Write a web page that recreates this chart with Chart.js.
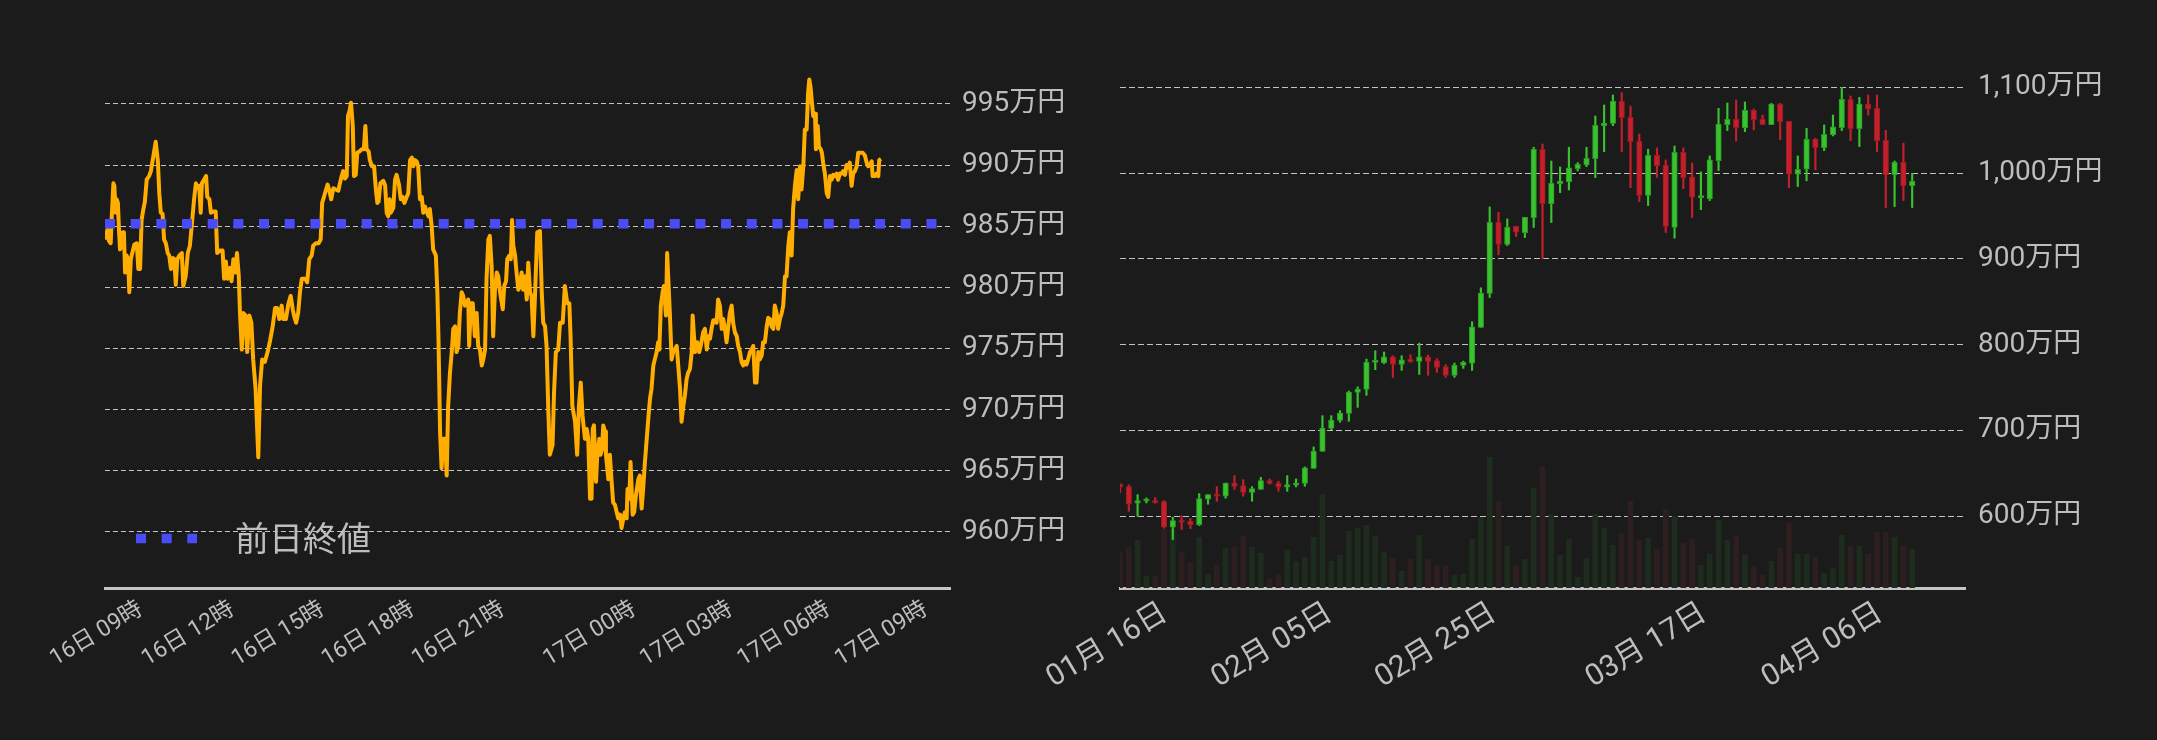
<!DOCTYPE html>
<html lang="ja">
<head>
<meta charset="utf-8">
<title>ビットコイン価格</title>
<script src="https://cdn.jsdelivr.net/npm/chart.js@4.4.1/dist/chart.umd.min.js"></script>
<style>
  html, body { margin: 0; padding: 0; background: #1b1b1b; }
  #wrap { position: relative; width: 2157px; height: 740px; }
  canvas { position: absolute; top: 0; display: block; }
  #dayChart { left: 0; }
  #rangeChart { left: 980px; }
</style>
</head>
<body>
<div id="wrap">
  <canvas id="dayChart" width="1078" height="740"></canvas>
  <canvas id="rangeChart" width="1177" height="740"></canvas>
</div>
<script>
Chart.defaults.font.family = "Roboto, 'Noto Sans CJK JP', sans-serif";
Chart.defaults.animation = false;

var labelColor = '#bdbdbd';
var gridColor = 'rgba(225,225,225,0.85)';
var axisColor = '#c4c4c4';

// ---- left: intraday price (x = sample slot, y = 万円) ----
var slotRange = [0, 281.7];
var timeTicks = [12, 42.6, 72.6, 102.6, 132.7, 176.4, 208.7, 241.2, 273.7];
var timeLabels = ['16日 09時', '16日 12時', '16日 15時', '16日 18時', '16日 21時', '17日 00時', '17日 03時', '17日 06時', '17日 09時'];
var priceTicks = [960, 965, 970, 975, 980, 985, 990, 995];
var prevClose = 985.2;

var dayTrace = [
  [0,983.9],[0.8,984.7],[1.3,983.8],[1.9,983.6],[2.2,985.5],[2.8,988.5],[3.1,988.3],[3.6,986.1],[3.9,987.2],[4.3,986.9],
  [4.7,984.5],[5.0,983.1],[5.6,983.4],[5.9,984.5],[6.3,984.5],[6.7,981.2],[7.2,982.6],[7.7,982.3],[8.1,979.6],[8.6,982.3],
  [9.1,982.8],[9.8,983.5],[10.6,983.6],[11.1,981.5],[11.7,981.5],[12.2,985.5],[12.8,986.4],[13.3,987.0],[13.9,988.8],[14.7,989.1],
  [15.3,989.5],[16.1,990.7],[16.9,991.9],[17.6,990.4],[18.1,987.7],[18.6,986.1],[19.2,986.0],[19.7,983.9],[20.3,983.6],[20.9,982.8],
  [21.4,982.6],[22.0,981.5],[22.6,982.4],[23.1,982.3],[23.6,980.2],[24.1,982.3],[24.8,982.6],[25.6,982.8],[26.1,980.1],[26.9,980.9],
  [27.6,982.8],[28.3,983.4],[28.9,985.0],[29.7,987.2],[30.3,988.5],[30.9,988.1],[31.4,988.3],[31.9,986.1],[32.3,988.5],[33.0,988.8],
  [33.7,989.1],[34.1,987.4],[34.8,987.2],[35.3,986.1],[36.1,986.2],[36.9,986.2],[37.4,982.8],[38.3,983.0],[39.2,983.0],[39.7,980.7],
  [40.3,982.1],[40.9,980.7],[41.7,981.6],[42.2,980.5],[42.8,982.3],[43.4,981.2],[44.0,982.8],[44.6,980.9],[45.0,977.9],[45.6,974.9],
  [46.1,977.9],[46.8,977.7],[47.4,974.7],[48.1,977.7],[48.8,977.1],[49.4,974.1],[50.2,971.7],[51.1,966.1],[51.7,972.0],[52.4,974.1],
  [53.3,973.9],[54.2,974.7],[55.0,975.6],[55.9,976.8],[56.7,978.3],[57.4,978.3],[58.1,977.4],[58.9,978.5],[59.4,977.4],[60.3,977.4],
  [61.1,978.6],[61.9,979.3],[62.6,978.2],[63.0,977.7],[63.7,977.1],[64.4,977.9],[65.0,979.6],[65.6,980.7],[66.7,980.7],[67.4,980.4],
  [68.1,982.3],[68.9,982.6],[69.4,983.4],[70.3,983.6],[71.2,983.6],[71.9,983.9],[72.4,986.9],[73.0,987.4],[73.7,988.0],[74.2,988.4],
  [74.8,987.9],[75.4,987.2],[76.1,988.1],[76.9,988.0],[77.8,987.9],[78.3,988.5],[78.9,989.1],[79.4,989.5],[80.0,988.9],[80.6,989.1],
  [81.0,994.0],[81.6,994.5],[82.0,995.1],[82.6,993.2],[83.0,989.1],[83.6,989.2],[84.1,991.0],[84.8,991.1],[85.6,991.3],[86.3,991.3],
  [86.8,993.2],[87.2,991.3],[87.9,991.1],[88.3,990.4],[89.0,989.9],[89.7,989.9],[90.3,988.0],[90.8,986.9],[91.2,987.0],[91.8,988.5],
  [92.8,988.7],[93.4,988.3],[93.9,986.1],[94.4,985.8],[94.9,987.2],[95.3,986.1],[96.1,986.5],[96.7,988.8],[97.2,989.2],[98.0,988.4],
  [98.6,987.2],[99.2,987.4],[99.8,986.9],[100.6,987.4],[101.1,987.7],[101.7,990.4],[102.3,990.6],[102.8,989.9],[103.3,990.4],[103.9,990.3],
  [104.4,989.9],[105.0,987.2],[105.6,987.4],[106.1,986.1],[106.7,986.6],[107.2,986.2],[107.9,985.8],[108.3,986.4],[108.9,985.0],[109.4,983.1],
  [110.3,982.6],[110.8,979.6],[111.2,975.5],[111.7,968.2],[112.2,965.2],[112.8,967.6],[113.4,967.6],[113.9,964.6],[114.4,970.3],[115.0,973.0],
  [115.6,974.7],[116.1,976.6],[116.7,976.8],[117.2,974.7],[117.8,975.2],[118.3,977.9],[118.9,979.6],[119.4,979.3],[120.0,978.5],[120.6,978.7],
  [121.1,979.0],[121.4,975.2],[122.0,978.7],[122.6,978.7],[123.3,976.0],[123.9,977.9],[124.4,975.2],[125.0,974.9],[125.6,973.6],[126.1,974.1],
  [126.7,974.9],[127.2,980.7],[127.8,983.9],[128.3,984.2],[128.9,981.7],[129.4,976.0],[130.0,979.8],[130.6,981.2],[131.1,980.9],[131.7,979.6],
  [132.6,978.2],[133.1,980.1],[133.7,980.5],[134.1,982.3],[134.8,982.6],[135.3,982.3],[135.7,985.5],[136.1,983.4],[136.7,982.6],[137.2,981.2],
  [137.8,979.8],[138.3,980.1],[138.9,981.2],[139.4,979.8],[140.0,980.9],[140.6,979.0],[141.1,982.0],[141.7,979.6],[142.2,979.3],[142.8,976.0],
  [143.3,979.0],[144.1,984.5],[145.0,984.6],[145.6,979.6],[146.1,977.1],[146.7,976.8],[147.2,975.2],[147.8,969.8],[148.3,966.3],[149.2,967.1],
  [149.7,971.4],[150.3,974.7],[151.1,974.9],[151.7,977.1],[152.6,977.1],[153.3,980.1],[154.1,978.7],[154.8,978.7],[155.2,976.0],[155.8,970.3],
  [156.7,969.0],[157.4,966.3],[158.0,970.3],[158.6,972.2],[159.2,969.5],[160.0,967.6],[160.6,968.4],[161.1,967.6],[161.7,962.7],[162.2,962.7],
  [162.6,968.4],[163.0,968.7],[163.7,964.1],[164.1,966.3],[164.8,967.6],[165.2,966.3],[165.7,966.8],[166.1,968.7],[166.7,968.2],[167.0,966.3],
  [167.8,964.3],[168.3,966.3],[168.9,964.1],[169.4,962.4],[170.0,962.2],[170.6,961.6],[171.1,961.1],[171.7,961.4],[172.2,960.3],[172.8,961.1],
  [173.3,961.6],[173.9,961.1],[174.2,963.5],[174.8,962.7],[175.2,965.7],[175.9,961.4],[176.4,961.6],[177.0,963.0],[177.8,964.3],[178.3,964.6],
  [178.9,961.9],[179.4,963.5],[180.0,965.7],[180.6,967.6],[181.1,969.2],[181.7,970.9],[182.2,971.7],[182.8,973.6],[183.3,974.1],[183.9,974.7],
  [184.4,975.5],[184.8,974.9],[185.3,978.5],[185.9,979.6],[186.3,980.1],[187.0,977.7],[187.4,982.8],[187.9,980.1],[188.3,977.9],[188.9,974.1],
  [189.4,974.7],[190.6,975.2],[191.7,971.7],[192.2,969.0],[192.8,970.3],[193.3,971.1],[193.9,972.5],[194.4,973.0],[195.0,973.3],[195.6,974.7],
  [195.9,977.7],[196.7,974.7],[197.4,975.5],[198.1,974.7],[198.6,975.2],[199.4,976.3],[200.0,976.6],[200.6,974.9],[201.1,976.0],[201.7,975.8],
  [202.2,976.6],[202.8,977.3],[203.3,977.3],[203.9,977.1],[204.4,979.0],[205.0,978.5],[205.6,976.6],[206.1,977.4],[206.7,976.6],[207.2,975.5],
  [207.8,976.8],[208.3,977.9],[208.9,978.5],[209.4,977.1],[210.0,976.3],[210.6,976.0],[211.1,975.2],[211.7,974.7],[212.2,973.9],[212.8,973.6],
  [213.3,973.9],[213.9,973.7],[214.4,974.1],[215.0,974.7],[215.6,974.9],[216.1,975.2],[216.7,972.2],[217.2,972.2],[217.8,974.7],[218.3,974.1],
  [218.9,974.4],[219.4,975.5],[220.0,975.5],[220.6,976.8],[221.1,977.5],[221.7,977.4],[222.2,976.8],[222.8,976.6],[223.3,978.5],[223.9,977.9],
  [224.4,976.6],[225.0,977.4],[225.6,977.9],[226.1,978.5],[226.7,980.9],[227.2,980.9],[227.8,983.4],[228.3,984.5],[228.9,982.6],[229.4,986.4],
  [230.0,988.3],[230.6,989.6],[231.1,987.2],[231.7,989.9],[232.2,988.0],[232.8,989.9],[233.3,992.9],[233.9,992.9],[234.4,995.9],[234.8,997.0],
  [235.2,996.4],[235.6,995.3],[236.1,994.0],[236.7,994.2],[237.0,991.3],[237.6,993.2],[238.0,991.5],[238.6,991.3],[239.0,991.0],[239.4,990.2],
  [240.0,989.3],[240.6,987.7],[241.1,987.4],[241.7,989.1],[242.2,988.8],[242.8,989.2],[243.3,989.1],[243.9,989.3],[244.4,988.8],[245.0,989.3],
  [245.6,989.3],[246.1,989.5],[246.7,989.2],[247.2,990.0],[247.8,989.8],[248.3,990.2],[248.9,988.3],[249.4,989.3],[250.0,989.5],[250.6,989.9],
  [251.1,991.0],[251.7,991.0],[252.6,991.0],[253.3,990.8],[253.9,990.2],[254.4,989.9],[255.0,990.0],[255.6,990.3],[255.9,989.1],[256.7,989.1],
  [257.2,989.3],[257.8,989.1],[258.1,990.4],[258.7,990.5]
];

// ---- right: daily candles (万円) and volume ----
var candleRange = [0, 96];
var dayTicks = [5.15, 23.9, 42.5, 66.4, 86.4];
var dayLabels = ['01月 16日', '02月 05日', '02月 25日', '03月 17日', '04月 06日'];
var yenTicks = [600, 700, 800, 900, 1000, 1100];

var candleOpen = [637.5,634.3,614.9,617.6,618.1,616.9,587.0,594.8,594.0,590.1,
  619.6,625.0,623.1,638.6,635.5,627.7,631.2,641.3,638.6,633.6,
  635.9,638.2,655.7,675.5,702.3,711.6,719.8,744.3,747.7,779.2,
  778.8,785.8,776.9,782.7,780.4,785.8,781.2,774.2,764.1,775.7,
  778.4,820.0,859.6,942.7,916.7,938.0,930.6,948.1,1027.7,964.4,
  987.7,990.1,1005.2,1009.5,1016.9,1055.3,1058.0,1083.7,1065.0,1037.4,
  973.8,1020.8,1009.1,936.5,1024.3,995.5,971.4,970.2,1014.5,1056.5,
  1062.7,1053.0,1073.2,1062.7,1056.5,1080.6,1060.4,998.6,1004.5,1039.4,
  1029.7,1044.8,1053.0,1086.0,1051.8,1080.6,1075.5,1038.2,997.8,1012.6,985.4];
var candleHigh = [637.5,636.3,625.0,621.2,621.5,618.1,598.6,600.5,597.1,626.2,
  625.0,634.3,638.6,647.2,642.5,634.3,645.2,643.3,640.6,647.2,
  643.3,657.3,680.6,717.1,717.1,722.9,745.8,750.8,783.1,792.8,
  791.3,787.0,787.0,788.1,801.7,787.8,783.5,776.5,778.4,780.7,
  826.6,866.2,960.5,954.3,946.6,938.0,948.5,1030.1,1033.9,1014.1,
  1007.1,1030.1,1012.2,1030.1,1066.6,1079.4,1091.1,1093.8,1078.2,1045.6,
  1027.8,1029.3,1015.3,1031.6,1029.3,1011.8,1001.3,1020.0,1075.5,1081.7,
  1085.2,1082.9,1074.7,1067.7,1081.3,1081.3,1060.4,1020.0,1052.2,1040.6,
  1056.1,1067.7,1100.0,1089.9,1088.3,1091.1,1091.1,1049.9,1014.1,1034.7,999.8];
var candleLow = [627.7,605.6,599.8,615.3,614.9,585.8,572.6,584.3,585.4,588.9,
  613.8,617.3,620.8,631.2,623.1,617.3,631.2,637.1,628.9,628.9,
  634.0,634.7,655.7,675.5,700.8,709.3,710.5,726.8,740.8,770.7,
  777.6,761.7,769.9,779.2,765.2,764.1,767.6,761.7,761.7,772.2,
  769.9,820.0,854.9,904.6,915.5,926.0,924.8,936.5,900.0,942.3,
  977.2,980.3,1002.5,1007.5,994.7,1025.0,1055.3,1025.0,983.1,966.8,
  962.1,995.1,930.7,924.1,981.9,948.1,957.4,967.9,1002.9,1049.5,
  1037.4,1048.3,1050.3,1056.5,1056.5,1039.0,983.1,984.3,990.9,1003.7,
  1026.2,1043.3,1049.5,1037.8,1030.9,1067.7,1025.0,959.8,960.9,967.9,959.8];
var candleClose = [633.6,613.8,618.1,618.4,615.7,587.0,594.8,592.8,590.1,620.4,
  625.0,623.1,638.6,634.7,627.7,632.0,641.3,638.2,633.6,636.7,
  638.6,656.1,675.9,702.7,712.0,720.2,744.6,748.1,779.6,780.0,
  785.8,776.9,782.3,780.0,785.8,780.4,773.4,764.1,776.1,779.2,
  820.7,860.0,942.7,916.7,936.8,931.0,948.5,1027.7,964.4,988.1,
  990.8,1006.0,1010.6,1017.2,1055.7,1058.4,1083.7,1064.6,1036.7,973.8,
  1020.8,1008.7,937.7,1024.3,994.7,971.8,972.2,1015.3,1057.2,1062.7,
  1053.0,1073.2,1062.3,1056.5,1080.6,1060.0,998.6,1004.5,1039.4,1029.7,
  1045.2,1053.8,1086.0,1051.8,1080.6,1075.1,1037.8,997.8,1012.6,985.4,990.4];
var volume = [350,407,477,117,117,583,583,357,247,507,
  137,227,397,407,517,407,347,97,137,377,
  267,307,507,937,267,327,567,597,627,517,
  357,297,167,287,527,287,217,217,127,137,
  487,707,1307,867,417,227,287,997,1207,737,
  327,487,107,297,737,597,427,547,867,477,
  497,387,787,717,447,487,227,337,677,477,
  517,337,217,127,267,397,647,337,337,307,
  147,197,527,417,417,337,557,557,507,417,387];

var candleUp = candleClose.map(function (c, i) { return c >= candleOpen[i]; });
var bodyColor = candleUp.map(function (u) { return u ? '#38c22e' : '#c4202c'; });
var edgeColor = candleUp.map(function (u) { return u ? '#2b9a24' : '#9c1923'; });
var volColor = candleUp.map(function (u) { return u ? '#1d2c1d' : '#2d1e1f'; });

// legend for the dotted previous-close line, drawn in the lower left of the plot
var insideLegend = {
  id: 'insideLegend',
  afterDatasetsDraw: function (chart) {
    var ds = chart.data.datasets[1];
    var ctx = chart.ctx;
    var area = chart.chartArea;
    var y = area.bottom - 49.5;
    ctx.save();
    ctx.strokeStyle = ds.borderColor;
    ctx.lineWidth = ds.borderWidth;
    ctx.setLineDash(ds.borderDash);
    ctx.beginPath();
    ctx.moveTo(area.left + 31, y);
    ctx.lineTo(area.left + 92, y);
    ctx.stroke();
    ctx.setLineDash([]);
    ctx.fillStyle = labelColor;
    ctx.font = "34px 'Noto Sans CJK JP', sans-serif";
    ctx.textBaseline = 'middle';
    ctx.fillText(ds.label, area.left + 130, y);
    ctx.restore();
  }
};

// keep the plot edges fixed: rotated labels must not push the chart area in
function fixXAxis(s) {
  s.height = 152;
  s.paddingLeft = 0;
  s.paddingRight = 0;
}

new Chart(document.getElementById('dayChart'), {
  type: 'line',
  data: {
    datasets: [{
      label: '価格',
      data: dayTrace.map(function (p) { return { x: p[0], y: p[1] }; }),
      borderColor: '#ffad00',
      borderWidth: 4,
      borderJoinStyle: 'round',
      pointRadius: 0,
      tension: 0,
      order: 1
    }, {
      label: '前日終値',
      data: [{ x: slotRange[0], y: prevClose }, { x: slotRange[1], y: prevClose }],
      borderColor: '#4a4cf7',
      borderWidth: 9.5,
      borderDash: [10, 15.67],
      pointRadius: 0,
      order: 0
    }]
  },
  options: {
    responsive: false,
    events: [],
    layout: { padding: { left: 105, top: 55, right: 0, bottom: 0 }, autoPadding: false },
    plugins: { legend: { display: false }, tooltip: { enabled: false } },
    scales: {
      x: {
        type: 'linear',
        min: slotRange[0],
        max: slotRange[1],
        grid: { display: false, drawTicks: false },
        border: { display: true, color: axisColor, width: 3 },
        afterBuildTicks: function (s) { s.ticks = timeTicks.map(function (v) { return { value: v }; }); },
        afterFit: fixXAxis,
        ticks: {
          autoSkip: false, minRotation: 31, maxRotation: 31, padding: 8,
          color: labelColor, font: { size: 23 },
          callback: function (v, i) { return timeLabels[i]; }
        }
      },
      y: {
        position: 'right',
        min: 955.4,
        max: 999,
        grid: { color: gridColor, lineWidth: 1, drawTicks: false },
        border: { display: false, dash: [5, 3] },
        afterBuildTicks: function (s) { s.ticks = priceTicks.map(function (v) { return { value: v }; }); },
        afterFit: function (s) { s.width = 128; },
        ticks: { padding: 12, color: labelColor, font: { size: 28 }, callback: function (v) { return v + '万円'; } }
      }
    }
  },
  plugins: [insideLegend]
});

new Chart(document.getElementById('rangeChart'), {
  type: 'bar',
  data: {
    datasets: [{
      label: '出来高',
      data: volume.map(function (v, i) { return { x: i, y: v }; }),
      yAxisID: 'yVol',
      backgroundColor: volColor,
      barThickness: 5,
      grouped: false,
      clip: 0,
      order: 3
    }, {
      label: '高値・安値',
      data: candleHigh.map(function (h, i) { return { x: i, y: [candleLow[i], h] }; }),
      backgroundColor: bodyColor,
      barThickness: 1.5,
      grouped: false,
      clip: 0,
      order: 2
    }, {
      label: '始値・終値',
      data: candleOpen.map(function (o, i) { return { x: i, y: [o, candleClose[i]] }; }),
      backgroundColor: bodyColor,
      borderColor: edgeColor,
      borderWidth: 1,
      borderSkipped: false,
      barThickness: 5.5,
      minBarLength: 2,
      grouped: false,
      clip: 0,
      order: 1
    }]
  },
  options: {
    responsive: false,
    events: [],
    layout: { padding: { left: 140, top: 55, right: 0, bottom: 0 }, autoPadding: false },
    plugins: { legend: { display: false }, tooltip: { enabled: false } },
    scales: {
      x: {
        type: 'linear',
        offset: false,
        min: candleRange[0],
        max: candleRange[1],
        grid: { display: false, drawTicks: false },
        border: { display: true, color: axisColor, width: 3 },
        afterBuildTicks: function (s) { s.ticks = dayTicks.map(function (v) { return { value: v }; }); },
        afterFit: fixXAxis,
        ticks: {
          autoSkip: false, minRotation: 31, maxRotation: 31, padding: 8,
          color: labelColor, font: { size: 30 },
          callback: function (v, i) { return dayLabels[i]; }
        }
      },
      y: {
        position: 'right',
        beginAtZero: false,
        min: 516.1,
        max: 1137.7,
        grid: { color: gridColor, lineWidth: 1, drawTicks: false },
        border: { display: false, dash: [6, 3] },
        afterBuildTicks: function (s) { s.ticks = yenTicks.map(function (v) { return { value: v }; }); },
        afterFit: function (s) { s.width = 192; },
        ticks: {
          padding: 13, color: labelColor, font: { size: 28 },
          callback: function (v) { return v.toLocaleString('en-US') + '万円'; }
        }
      },
      yVol: { display: false, min: 0, max: 5330 }
    }
  }
});
</script>
</body>
</html>
